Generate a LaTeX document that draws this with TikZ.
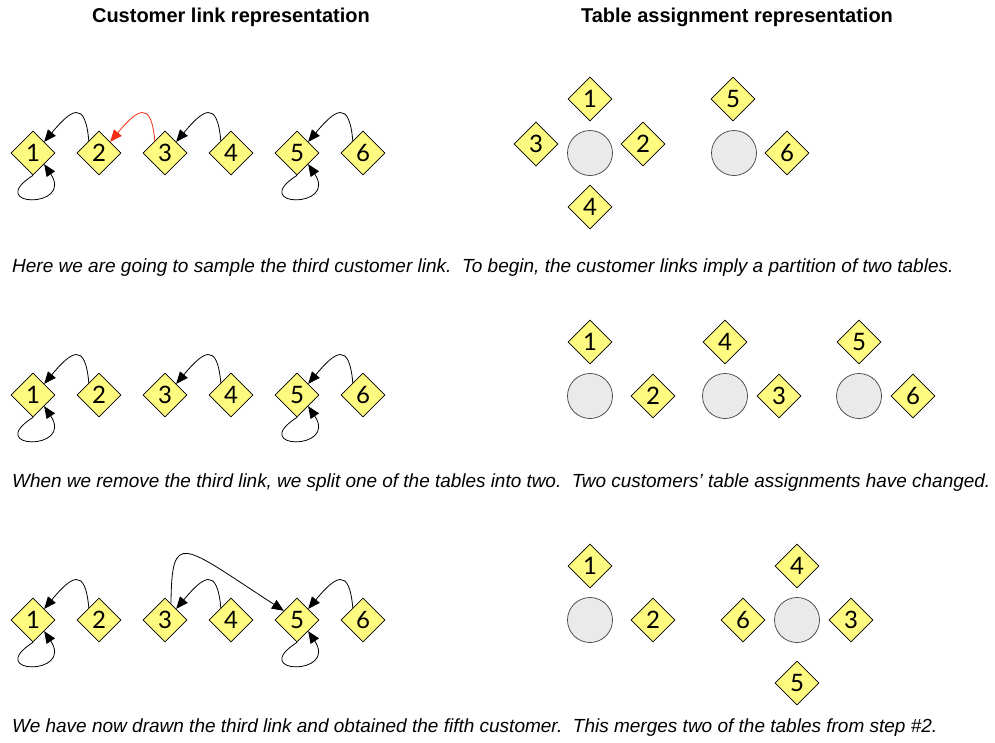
\documentclass[tikz,border=0pt]{standalone}
\usepackage{fontspec}
\setmainfont{Liberation Sans}
\newfontfamily\digitfont{Lato}
\usetikzlibrary{shapes.geometric,arrows.meta,calc}
\definecolor{dfill}{RGB}{255,250,128}
\definecolor{tfill}{RGB}{234,234,234}
\definecolor{linkred}{RGB}{245,45,20}
\newcommand\custrow[2]{%
  \foreach \i in {1,...,6} {\node[cust] (#1\i) at ({33+66*(\i-1)},#2) {\i};}}
\newcommand\selfloop[1]{%
  \draw[link] (#1.south) .. controls ($(#1.south)+(-50,-32)$) and ($(#1.-45)+(30,-45)$) .. (#1.-45);}
\newcommand\backlink[3][black]{%
  \draw[link,draw=#1] (#2.130) to[out=95,in=50,looseness=2.4] (#3.45);}
\begin{document}
\begin{tikzpicture}[x=1pt,y=1pt,
  cust/.style={diamond, draw=black, line width=0.7pt, fill=dfill,
    minimum width=44pt, minimum height=44pt, inner sep=0pt,
    font=\digitfont\fontsize{24}{24}\selectfont},
  tab/.style={circle, draw=black!75, line width=0.7pt, fill=tfill,
    minimum size=45pt, inner sep=0pt},
  link/.style={-{Triangle[length=12pt,width=10pt]}, line width=0.8pt},
  title/.style={font=\bfseries\fontsize{20}{24}\selectfont},
  caption/.style={anchor=west, inner sep=0pt, font=\itshape\fontsize{19}{22}\selectfont}]
\useasboundingbox (0,0) rectangle (995,-742);
\fill[white] (0,0) rectangle (995,-742);

% titles
\node[title] (t1) at (231,-17) {Customer link representation};
\node[title] (t2) at (737,-17) {Table assignment representation};

% ---------- row 1 ----------
\custrow{a}{-153}
\selfloop{a1}
\selfloop{a5}
\backlink{a2}{a1}
\backlink[linkred]{a3}{a2}
\backlink{a4}{a3}
\backlink{a6}{a5}

\node[tab] (ta1) at (590,-153) {};
\node[cust] (ta1d1) at (590,-99) {1};
\node[cust] (ta1d3) at (536,-144) {3};
\node[cust] (ta1d2) at (643,-144) {2};
\node[cust] (ta1d4) at (590,-207) {4};
\node[tab] (ta2) at (734,-153) {};
\node[cust] (ta2d5) at (733,-99) {5};
\node[cust] (ta2d6) at (787,-153) {6};

\node[caption] (c1) at (12,-268) {Here we are going to sample the third customer link.\ \ To begin, the customer links imply a partition of two tables.};

% ---------- row 2 ----------
\custrow{b}{-395}
\selfloop{b1}
\selfloop{b5}
\backlink{b2}{b1}
\backlink{b4}{b3}
\backlink{b6}{b5}

\node[tab] (tb1) at (590,-396) {};
\node[cust] (tb1d1) at (590,-342) {1};
\node[cust] (tb1d2) at (653,-396) {2};
\node[tab] (tb2) at (725,-396) {};
\node[cust] (tb2d4) at (725,-342) {4};
\node[cust] (tb2d3) at (779,-396) {3};
\node[tab] (tb3) at (859,-396) {};
\node[cust] (tb3d5) at (859,-342) {5};
\node[cust] (tb3d6) at (913,-396) {6};

\node[caption] (c2) at (12,-483) {\resizebox{978pt}{\height}{When we remove the third link, we split one of the tables into two.\ \ Two customers' table assignments have changed.}};

% ---------- row 3 ----------
\custrow{c}{-620}
\selfloop{c1}
\selfloop{c5}
\backlink{c2}{c1}
\backlink{c4}{c3}
\backlink{c6}{c5}
\draw[link] (c3.70) .. controls ($(c3.70)+(1,74)$) and ($(c5.145)+(-103,67)$) .. (c5.145);

\node[tab] (tc1) at (590,-620) {};
\node[cust] (tc1d1) at (590,-566) {1};
\node[cust] (tc1d2) at (653,-620) {2};
\node[tab] (tc2) at (797,-620) {};
\node[cust] (tc2d4) at (797,-566) {4};
\node[cust] (tc2d6) at (743,-620) {6};
\node[cust] (tc2d3) at (851,-620) {3};
\node[cust] (tc2d5) at (797,-683) {5};

\node[caption] (c3) at (12,-728) {We have now drawn the third link and obtained the fifth customer.\ \ This merges two of the tables from step \#2.};
\end{tikzpicture}
\end{document}
